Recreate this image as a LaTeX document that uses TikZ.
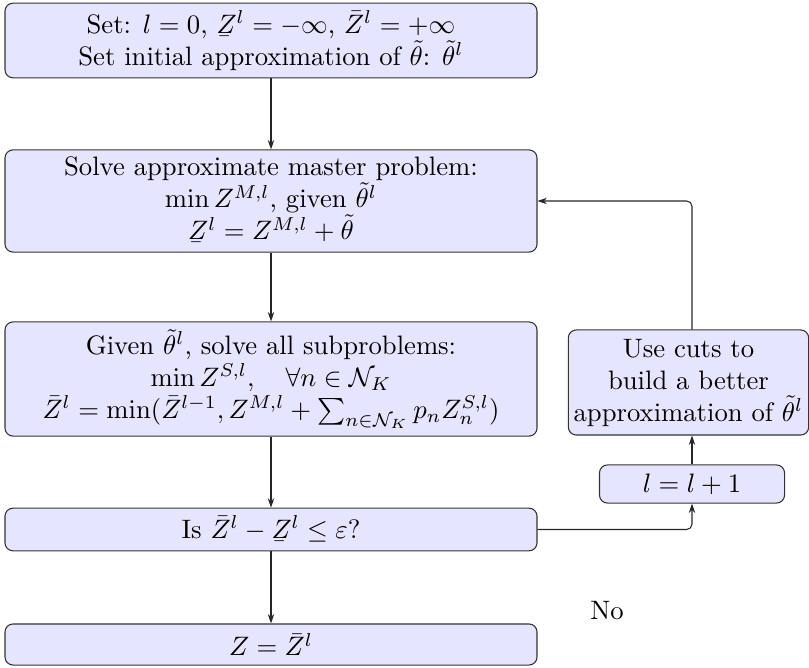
\documentclass[tikz,border=0pt]{standalone}
\usepackage{accents}
\usetikzlibrary{arrows.meta}
\newcommand{\lowZ}{\underaccent{\bar}{Z}}
\begin{document}
\begin{tikzpicture}[x=0.375pt,y=-0.375pt,
  box/.style={draw=black!80,fill=blue!10,rounded corners=3pt,align=center,inner sep=2pt},
  conn/.style={draw=black!85,-{Stealth[length=3.5pt,width=2.4pt]},rounded corners=2pt}]
\useasboundingbox (0,0) rectangle (809,668);
\node[box,minimum width=199.5pt,minimum height=28pt] (b1) at (271,40.5)
  {Set: $l=0$, $\lowZ^l=-\infty$, $\bar{Z}^l=+\infty$\\Set initial approximation of $\tilde{\theta}$: $\tilde{\theta}^l$};
\node[box,minimum width=199.5pt,minimum height=38.3pt] (b2) at (271,201)
  {Solve approximate master problem:\\$\min Z^{M,l}$, given $\tilde{\theta}^l$\\$\lowZ^l=Z^{M,l}+\tilde{\theta}$};
\node[box,minimum width=199.5pt,minimum height=42.8pt] (b3) at (271,379)
  {Given $\tilde{\theta}^l$, solve all subproblems:\\$\min Z^{S,l},\quad \forall n\in\mathcal{N}_K$\\$\bar{Z}^l=\min(\bar{Z}^{l-1},Z^{M,l}+\sum_{n\in\mathcal{N}_K}p_nZ_n^{S,l})$};
\node[box,minimum width=199.5pt,minimum height=16pt] (b4) at (271,529.5)
  {Is $\bar{Z}^l-\lowZ^l\le\varepsilon$?};
\node[box,minimum width=199.5pt,minimum height=15.4pt] (b5) at (271,644.5)
  {$Z=\bar{Z}^l$};
\node[box,minimum width=90pt,minimum height=39.4pt] (cuts) at (688.5,382.5)
  {Use cuts to\\build a better\\approximation of $\tilde{\theta}^l$};
\node[box,minimum width=69.4pt,minimum height=14.3pt] (inc) at (692,484)
  {$l=l+1$};
\node (no) at (607,611) {No};
\draw[conn] (b1) -- (b2);
\draw[conn] (b2) -- (b3);
\draw[conn] (b3) -- (b4);
\draw[conn] (b4) -- (b5);
\draw[conn] (b4.east) -| (inc.south);
\draw[conn] (inc.north) -- (inc.north |- cuts.south);
\draw[conn] (inc.north |- cuts.north) |- (b2.east);
\end{tikzpicture}
\end{document}
